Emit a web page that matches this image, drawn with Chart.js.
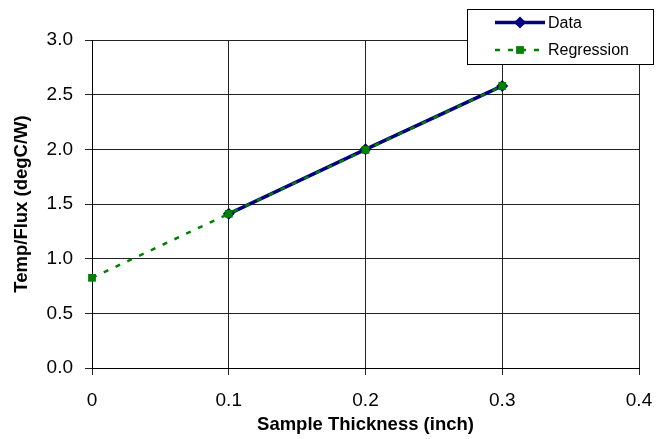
<!DOCTYPE html>
<html>
<head>
<meta charset="utf-8">
<script src="https://cdn.jsdelivr.net/npm/chart.js@4.4.1/dist/chart.umd.min.js"></script>
<style>
  html, body { margin: 0; padding: 0; background: #fff; }
  canvas { display: block; }
</style>
</head>
<body>
<canvas id="myChart" width="656" height="439"></canvas>
<script>
// data
var thickness = [0.1, 0.2, 0.3];
var dataValues = [1.41, 2.00, 2.58];
var regThickness = [0, 0.1, 0.2, 0.3];
var regValues = [0.825, 1.41, 1.995, 2.58];
var xTickLabels = ['0', '0.1', '0.2', '0.3', '0.4'];
var yTickLabels = ['0.0', '0.5', '1.0', '1.5', '2.0', '2.5', '3.0'];

function toPoints(xs, ys) {
    return xs.map(function (x, i) { return { x: x, y: ys[i] }; });
}

// legend box drawn in the top right corner, over the plot
var boxLegend = {
    id: 'boxLegend',
    afterDraw: function (chart) {
        var c = chart.ctx;
        c.save();
        c.fillStyle = '#fff';
        c.fillRect(467.5, 9.5, 186, 55);
        c.strokeStyle = '#000';
        c.lineWidth = 1;
        c.strokeRect(467.5, 9.5, 186, 55);
        c.font = '16px "Liberation Sans", Arial, sans-serif';
        c.textBaseline = 'middle';
        c.fillStyle = '#000';
        var rows = [22.5, 50];
        chart.data.datasets.slice().reverse().forEach(function (ds, i) {
            var y = rows[i];
            c.strokeStyle = ds.borderColor;
            c.lineWidth = ds.borderWidth;
            c.setLineDash(ds.borderDash || []);
            c.beginPath();
            c.moveTo(495, y);
            c.lineTo(545, y);
            c.stroke();
            c.setLineDash([]);
            c.fillStyle = ds.pointBackgroundColor;
            Chart.helpers.drawPoint(c, { pointStyle: ds.pointStyle, radius: ds.pointRadius, borderWidth: 0, rotation: 0 }, 520, y);
            c.fillStyle = '#000';
            c.fillText(ds.label, 548, y + 1);
        });
        c.restore();
    }
};

var ctx = document.getElementById('myChart').getContext('2d');
var myChart = new Chart(ctx, {
    type: 'line',
    data: {
        datasets: [{
            label: 'Regression',
            data: toPoints(regThickness, regValues),
            borderColor: '#008000',
            backgroundColor: '#008000',
            pointBackgroundColor: '#008000',
            pointBorderColor: '#008000',
            borderWidth: 2.5,
            borderDash: [5, 8],
            pointStyle: 'rect',
            pointRadius: 5.5,
            pointBorderWidth: 0,
            clip: false,
            tension: 0
        }, {
            label: 'Data',
            data: toPoints(thickness, dataValues),
            borderColor: '#000080',
            backgroundColor: '#000080',
            pointBackgroundColor: '#000080',
            pointBorderColor: '#000080',
            borderWidth: 3.5,
            pointStyle: 'rectRot',
            pointRadius: 6,
            pointBorderWidth: 0,
            clip: false,
            tension: 0
        }]
    },
    options: {
        responsive: false,
        animation: false,
        layout: { padding: { top: 40, right: 17, left: 0, bottom: 0 } },
        plugins: {
            legend: { display: false },
            tooltip: { enabled: false }
        },
        scales: {
            x: {
                type: 'linear',
                min: 0,
                max: 0.4,
                afterFit: function (s) { s.height = 71; s.paddingRight = 0; s.paddingLeft = 0; },
                ticks: {
                    stepSize: 0.1,
                    padding: 14,
                    color: '#000',
                    maxRotation: 0,
                    font: { family: '"Liberation Sans", Arial, sans-serif', size: 19 },
                    callback: function (v, i) { return xTickLabels[i]; }
                },
                grid: { color: '#222', lineWidth: 1, tickLength: 7 },
                border: { color: '#000', width: 1 },
                title: {
                    display: true,
                    text: 'Sample Thickness (inch)',
                    color: '#000',
                    padding: { top: 0, bottom: 3 },
                    font: { family: '"Liberation Sans", Arial, sans-serif', size: 18.5, weight: 'bold' }
                }
            },
            y: {
                min: 0,
                max: 3,
                afterFit: function (s) { s.width = 92; s.paddingTop = 0; s.paddingBottom = 0; },
                ticks: {
                    stepSize: 0.5,
                    padding: 12,
                    color: '#000',
                    font: { family: '"Liberation Sans", Arial, sans-serif', size: 19 },
                    callback: function (v, i) { return yTickLabels[i]; }
                },
                grid: { color: '#222', lineWidth: 1, tickLength: 7 },
                border: { color: '#000', width: 1 },
                title: {
                    display: true,
                    text: 'Temp/Flux (degC/W)',
                    color: '#000',
                    padding: { top: 11, bottom: 0 },
                    font: { family: '"Liberation Sans", Arial, sans-serif', size: 18.5, weight: 'bold' }
                }
            }
        }
    },
    plugins: [boxLegend]
});
</script>
</body>
</html>
